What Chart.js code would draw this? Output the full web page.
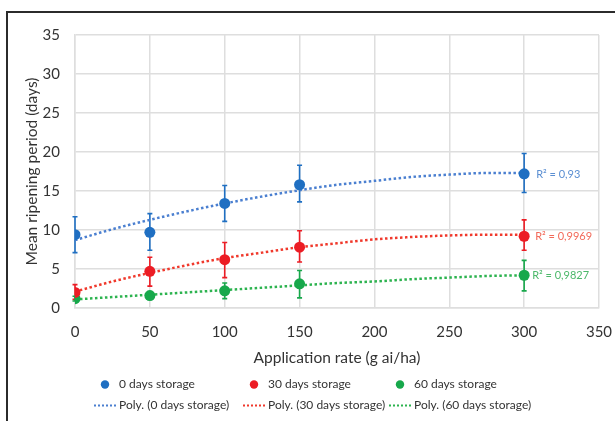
<!DOCTYPE html>
<html>
<head>
<meta charset="utf-8">
<script src="https://cdn.jsdelivr.net/npm/chart.js@4.4.1/dist/chart.umd.min.js"></script>
<style>
  html, body { margin: 0; padding: 0; background: #ffffff; }
  #wrap { position: relative; width: 615px; height: 421px; }
  canvas { display: block; }
</style>
</head>
<body>
<div id="wrap"><canvas id="c" width="615" height="421"></canvas></div>
<script>
// ---- data ----
const rates = [0, 50, 100, 150, 300];

const storage0 = [9.4, 9.7, 13.4, 15.8, 17.2];
const storage0Low = [7.1, 7.4, 11.1, 13.6, 14.8];
const storage0High = [11.7, 12.1, 15.7, 18.3, 19.8];

const storage30 = [2.0, 4.7, 6.2, 7.8, 9.2];
const storage30Low = [1.1, 2.8, 3.9, 5.9, 7.4];
const storage30High = [3.0, 6.5, 8.4, 9.9, 11.3];

const storage60 = [1.2, 1.6, 2.2, 3.1, 4.2];
const storage60Low = [0.9, 1.1, 1.2, 1.3, 2.2];
const storage60High = [1.5, 2.1, 3.2, 4.8, 6.1];

const trendRates = [0, 25, 50, 75, 100, 125, 150, 175, 200, 225, 250, 275, 300];
const trend0 = [8.7, 10.1, 11.3, 12.4, 13.4, 14.3, 15.1, 15.8, 16.3, 16.8, 17.1, 17.3, 17.3];
const trend30 = [2.1, 3.4, 4.5, 5.5, 6.4, 7.1, 7.8, 8.3, 8.8, 9.1, 9.3, 9.4, 9.4];
const trend60 = [1.1, 1.4, 1.7, 2.0, 2.3, 2.6, 2.9, 3.2, 3.4, 3.7, 3.9, 4.1, 4.2];

const seriesLabels = ['0 days storage', '30 days storage', '60 days storage'];
const trendLabels = ['Poly. (0 days storage)', 'Poly. (30 days storage)', 'Poly. (60 days storage)'];
const r2Labels = ['R² = 0,93', 'R² = 0,9969', 'R² = 0,9827'];
const xTitle = 'Application rate (g ai/ha)';
const yTitle = 'Mean ripening period (days)';

// ---- styles ----
const FONT = 'Lato, "Open Sans", sans-serif';
const pointColors = ['#1f6fc2', '#ec1c24', '#17a84b'];
const trendColors = ['#4a7fd0', '#f0392c', '#2cb34f'];
const r2Colors = ['#5b8fd2', '#f26a5a', '#4cb86a'];
const gridColor = '#dedede';
const textColor = '#333333';

function pts(xs, ys) { return xs.map((x, i) => ({ x: x, y: ys[i] })); }

const pointSets = [
  [storage0, storage0Low, storage0High],
  [storage30, storage30Low, storage30High],
  [storage60, storage60Low, storage60High]
];
const trendSets = [trend0, trend30, trend60];

const datasets = [];
pointSets.forEach((s, i) => {
  datasets.push({
    label: seriesLabels[i],
    kind: 'points',
    idx: i,
    data: pts(rates, s[0]),
    errLow: s[1],
    errHigh: s[2],
    showLine: false,
    pointRadius: 5.5,
    pointHoverRadius: 5.5,
    pointBorderWidth: 0,
    backgroundColor: pointColors[i],
    borderColor: pointColors[i],
    order: 1
  });
});
trendSets.forEach((t, i) => {
  datasets.push({
    label: trendLabels[i],
    kind: 'trend',
    idx: i,
    data: pts(trendRates, t),
    showLine: true,
    pointRadius: 0,
    borderColor: trendColors[i],
    backgroundColor: trendColors[i],
    borderWidth: 2.5,
    borderDash: [2.5, 2.5],
    borderCapStyle: 'butt',
    cubicInterpolationMode: 'monotone',
    fill: false,
    order: 2
  });
});

const decorPlugin = {
  id: 'decor',
  beforeDraw(chart) {
    const ctx = chart.ctx;
    ctx.save();
    ctx.fillStyle = '#ffffff';
    ctx.fillRect(0, 0, chart.width, chart.height);
    ctx.restore();
  },
  beforeDatasetsDraw(chart) {
    const ctx = chart.ctx;
    const xs = chart.scales.x, ys = chart.scales.y;
    ctx.save();
    chart.data.datasets.forEach(ds => {
      if (ds.kind !== 'points') return;
      ctx.strokeStyle = ds.borderColor;
      ctx.lineWidth = 1.6;
      ds.data.forEach((p, j) => {
        const px = xs.getPixelForValue(p.x);
        const y1 = ys.getPixelForValue(ds.errLow[j]);
        const y2 = ys.getPixelForValue(ds.errHigh[j]);
        ctx.beginPath();
        ctx.moveTo(px, y1); ctx.lineTo(px, y2);
        ctx.moveTo(px - 2.5, y1); ctx.lineTo(px + 2.5, y1);
        ctx.moveTo(px - 2.5, y2); ctx.lineTo(px + 2.5, y2);
        ctx.stroke();
      });
    });
    ctx.restore();
  },
  afterDraw(chart) {
    const ctx = chart.ctx;
    const xs = chart.scales.x, ys = chart.scales.y;
    ctx.save();
    // frame
    ctx.strokeStyle = '#2b2b2b';
    ctx.lineWidth = 2;
    ctx.beginPath();
    ctx.moveTo(7, chart.height);
    ctx.lineTo(7, 12);
    ctx.lineTo(chart.width, 12);
    ctx.stroke();

    // R² labels
    ctx.font = '11px ' + FONT;
    ctx.textBaseline = 'middle';
    ctx.textAlign = 'left';
    const r2dx = [12, 11, 8];
    chart.data.datasets.forEach(ds => {
      if (ds.kind !== 'points') return;
      const last = ds.data[ds.data.length - 1];
      const px = xs.getPixelForValue(last.x);
      const py = ys.getPixelForValue(last.y);
      ctx.fillStyle = r2Colors[ds.idx];
      ctx.fillText(r2Labels[ds.idx], px + r2dx[ds.idx], py + 0.5);
    });

    // legend
    const colX = [119, 268, 414];
    const rowY = [384.5, 405.5];
    ctx.font = '12px ' + FONT;
    ctx.fillStyle = textColor;
    chart.data.datasets.forEach(ds => {
      const tx = colX[ds.idx];
      if (ds.kind === 'points') {
        const y = rowY[0];
        ctx.fillStyle = ds.backgroundColor;
        ctx.beginPath();
        ctx.arc(tx - 14, y, 4.2, 0, Math.PI * 2);
        ctx.fill();
        ctx.fillStyle = textColor;
        ctx.fillText(ds.label, tx, y);
      } else {
        const y = rowY[1];
        ctx.strokeStyle = ds.borderColor;
        ctx.lineWidth = 2.2;
        ctx.setLineDash([2, 2]);
        ctx.beginPath();
        ctx.moveTo(tx - 25, y); ctx.lineTo(tx - 3, y);
        ctx.stroke();
        ctx.setLineDash([]);
        ctx.fillStyle = textColor;
        ctx.fillText(ds.label, tx, y);
      }
    });
    ctx.restore();
  }
};

new Chart(document.getElementById('c'), {
  type: 'scatter',
  data: { datasets: datasets },
  options: {
    responsive: false,
    animation: false,
    events: [],
    layout: { padding: { left: 8, top: 35, right: 16, bottom: 53 } },
    plugins: {
      legend: { display: false },
      tooltip: { enabled: false },
      title: { display: false }
    },
    scales: {
      x: {
        type: 'linear',
        min: 0, max: 350,
        afterFit(scale) { scale.height = 60; scale.paddingLeft = 0; scale.paddingRight = 0; },
        ticks: {
          stepSize: 50,
          padding: 15,
          color: textColor,
          font: { family: FONT, size: 15 }
        },
        grid: { color: gridColor, lineWidth: 1.5, drawTicks: false },
        border: { color: gridColor, width: 1.5 },
        title: {
          display: true,
          text: xTitle,
          color: textColor,
          font: { family: FONT, size: 15.5 },
          padding: { top: 0, bottom: 1 }
        }
      },
      y: {
        type: 'linear',
        min: 0, max: 35,
        afterFit(scale) { scale.width = 67; scale.paddingTop = 0; scale.paddingBottom = 0; },
        ticks: {
          stepSize: 5,
          padding: 15,
          color: textColor,
          font: { family: FONT, size: 15 }
        },
        grid: { color: gridColor, lineWidth: 1.5, drawTicks: false },
        border: { color: gridColor, width: 1.5 },
        title: {
          display: true,
          text: yTitle,
          color: textColor,
          font: { family: FONT, size: 15.5 },
          padding: { top: 15, bottom: 0 }
        }
      }
    }
  },
  plugins: [decorPlugin]
});
</script>
</body>
</html>
